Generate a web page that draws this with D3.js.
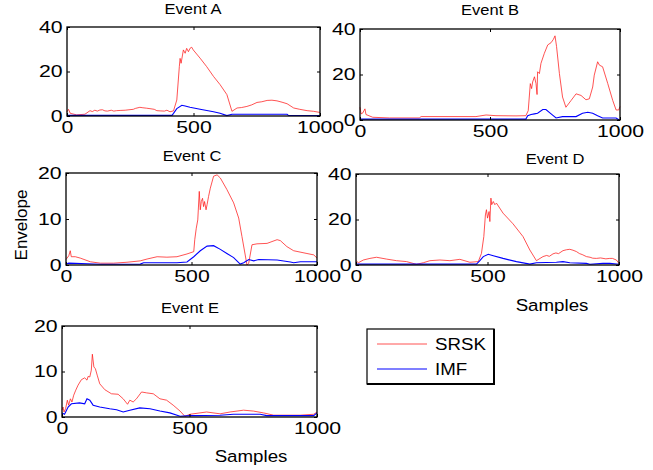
<!DOCTYPE html>
<html>
<head>
<meta charset="utf-8">
<script src="https://cdn.jsdelivr.net/npm/d3@7"></script>
<style>
  body { margin: 0; background: #fff; }
  svg { display: block; }
  text { font-family: "Liberation Sans", Arial, sans-serif; fill: #000; }
</style>
</head>
<body>
<svg id="chart" width="653" height="470"></svg>
<script>
// Envelope traces per event: [sample, envelope] pairs
const srskA = [[0,1.9],[6,3.0],[13,1.2],[38,0.5],[71,0.8],[91,2.4],[100,2.0],[110,2.6],[120,2.2],[130,2.7],[140,2.8],[150,2.3],[160,2.2],[175,2.6],[185,2.2],[196,2.4],[210,2.5],[230,2.6],[245,2.8],[262,3.0],[270,3.4],[288,3.9],[300,3.7],[315,3.5],[328,3.3],[345,3.0],[355,2.4],[368,2.3],[385,2.2],[395,2.6],[407,1.9],[421,2.3],[434,7.2],[444,22.2],[447,25.9],[451,23.7],[460,29.7],[467,28.2],[473,30.4],[480,28.9],[486,30.4],[493,30.9],[499,29.7],[526,26.0],[552,22.2],[579,17.8],[605,14.1],[632,9.6],[652,2.1],[672,3.6],[690,3.8],[711,4.3],[730,5.0],[751,6.1],[770,6.4],[791,7.0],[810,7.1],[830,6.8],[850,6.2],[870,5.5],[896,3.6],[920,3.0],[949,2.4],[975,2.1],[1000,1.6]];
const imfA = [[0,0.3],[415,0.3],[421,1.2],[434,3.3],[454,4.8],[467,4.5],[486,3.9],[526,3.0],[579,1.9],[605,1.2],[632,0.2],[652,0.8],[870,0.8],[876,0.2],[1000,0.2]];

const srskB = [[0,5.6],[4,2.7],[10,3.0],[19,4.9],[23,2.4],[49,1.2],[113,0.9],[228,0.9],[235,1.5],[446,1.5],[485,2.2],[523,1.9],[600,1.8],[638,1.9],[647,4.1],[655,16],[660,13.8],[664,16.7],[671,19],[677,16],[681,11.2],[683,21.2],[690,20.4],[696,24.9],[709,29.3],[722,33],[735,34],[744,35.5],[750,37],[756,32.3],[767,20.4],[779,10.1],[792,5.6],[812,8.6],[831,11.5],[850,10.8],[869,8.9],[882,9.3],[895,14.5],[901,19.7],[914,25.6],[921,24.1],[933,23.4],[953,16],[972,8.6],[985,4.4],[995,4.4],[1000,5.9]];
const imfB = [[0,0.4],[638,0.4],[645,1.9],[658,2.4],[671,2.7],[683,3.0],[703,4.6],[715,4.6],[735,2.7],[754,0.9],[779,1.5],[831,1.5],[856,3.0],[876,3.4],[895,3.0],[914,1.9],[933,0.9],[985,0.9],[997,0]];

const srskC = [[0,1.2],[11,2.0],[17,3.1],[21,1.8],[37,1.8],[57,1.5],[97,0.7],[137,0.4],[190,0.4],[243,0.6],[296,0.9],[323,1.3],[363,1.8],[402,1.7],[442,1.8],[482,2.4],[509,2.9],[513,5.5],[519,8.0],[525,9.8],[531,16],[535,12],[539,13.8],[544,14.5],[548,12.7],[552,13.8],[558,12],[562,13.1],[568,14.9],[575,16.7],[588,19.3],[602,19.6],[615,18.9],[641,16.4],[668,13.5],[688,10.2],[701,6.2],[721,0],[728,0.4],[741,4.4],[761,4.6],[801,4.7],[841,5.5],[854,5.3],[880,4.0],[907,3.1],[960,2.5],[987,2.2],[1000,1.5]];
const imfC = [[0,0.2],[11,0.4],[137,0.15],[296,0.2],[309,0.5],[442,0.5],[482,0.65],[509,1.8],[535,3.1],[562,4.1],[588,4.2],[615,3.4],[641,2.5],[668,1.6],[694,0.2],[708,0.5],[728,1.2],[748,0.9],[768,1.2],[841,1.1],[894,0.65],[907,0.5],[934,0.7],[1000,0.7]];

const srskD = [[0,1.9],[9,1.0],[28,2.2],[53,2.9],[78,3.4],[116,2.6],[154,1.9],[192,1.5],[230,0.3],[256,1.0],[281,1.9],[319,2.2],[357,1.9],[395,2.5],[433,1.2],[465,1.5],[477,5.1],[486,12.5],[492,22],[496,24.3],[500,20.6],[506,23.5],[509,19.1],[513,29.4],[516,26.5],[522,27.9],[528,26.5],[534,27.2],[559,22.8],[597,18.1],[635,12.5],[661,6.6],[686,1.9],[711,3.7],[725,4.2],[735,3.8],[749,4.9],[760,5.3],[770,5.0],[787,6.3],[800,6.7],[813,6.9],[825,6.5],[838,5.9],[850,5.0],[860,4.6],[876,3.7],[890,3.4],[900,3.0],[914,2.9],[930,3.1],[950,2.7],[965,2.9],[975,2.9],[990,2.2],[1000,0.7]];
const imfD = [[0,0.4],[458,0.4],[471,1.9],[484,3.7],[503,4.7],[522,4.1],[559,2.9],[610,1.5],[661,0.4],[686,1.0],[762,1.2],[787,1.5],[813,1.0],[876,0.7],[889,0.3],[939,0.7],[965,0.7],[1000,0.3]];

const srskE = [[0,1.5],[4,2.2],[8,1.1],[14,1.8],[21,3.7],[26,2.6],[33,4.0],[39,3.3],[46,4.8],[54,5.9],[63,7.0],[76,8.2],[89,8.6],[98,8.1],[102,8.9],[109,8.8],[115,10.3],[119,13.8],[125,11],[131,10.6],[138,9.2],[148,7.3],[168,6.0],[194,5.1],[220,5.0],[240,4.0],[257,2.8],[266,3.7],[279,3.3],[292,4.0],[312,5.5],[332,5.3],[358,5.1],[384,4.0],[410,3.7],[436,2.6],[463,1.3],[482,0.15],[502,0.6],[541,0.9],[567,1.1],[620,0.7],[659,1.1],[712,1.5],[751,1.3],[790,0.9],[830,0.4],[934,0.4],[987,0.6],[1000,1.1]];
const imfE = [[0,0.9],[10,0.6],[24,2.2],[37,2.9],[69,3.1],[89,2.9],[98,4.0],[109,3.7],[122,2.6],[148,2.2],[187,1.8],[214,1.6],[240,1.1],[266,1.5],[305,2.0],[345,1.8],[384,1.3],[423,0.9],[463,0.15],[502,0.3],[620,0.4],[672,0.6],[777,0.6],[803,0.3],[987,0.3],[1000,0.9]];

const eventTitles = ["Event A", "Event B", "Event C", "Event D", "Event E"];
const xTicks = [0, 500, 1000];
const yTicks40 = [0, 20, 40];
const yTicks20 = [0, 10, 20];
const seriesNames = ["SRSK", "IMF"];

const colors = { SRSK: "#ff1a1a", IMF: "#0000ff" };

// Panel frames (pixel boxes) and title anchors
const panels = [
  { title: eventTitles[0], srsk: srskA, imf: imfA, yTicks: yTicks40, box: [67, 27, 320, 116], tx: 193, ty: 14 },
  { title: eventTitles[1], srsk: srskB, imf: imfB, yTicks: yTicks40, box: [360, 29, 620, 120], tx: 490, ty: 15 },
  { title: eventTitles[2], srsk: srskC, imf: imfC, yTicks: yTicks20, box: [66, 173, 317, 265], tx: 192, ty: 161 },
  { title: eventTitles[3], srsk: srskD, imf: imfD, yTicks: yTicks40, box: [356, 174, 619, 265], tx: 555, ty: 164 },
  { title: eventTitles[4], srsk: srskE, imf: imfE, yTicks: yTicks20, box: [62, 326, 317, 417], tx: 190, ty: 313 }
];

const svg = d3.select("#chart");
const tickLen = 3;
const SX_TICK = 1.25, SX_TITLE = 1.18, SX_LABEL = 1.1;

// text widened horizontally about its anchor point
function wideText(parent, x, y, str, size, sx, anchor) {
  return parent.append("text")
    .attr("transform", `translate(${x},${y}) scale(${sx},1)`)
    .attr("text-anchor", anchor || "middle")
    .attr("font-size", size).text(str);
}

panels.forEach(p => {
  const [x0, y0, x1, y1] = p.box;
  const x = d3.scaleLinear().domain([0, 1000]).range([x0, x1]);
  const y = d3.scaleLinear().domain([0, d3.max(p.yTicks)]).range([y1, y0]);
  const g = svg.append("g");

  const line = d3.line().x(d => x(d[0])).y(d => y(d[1]));

  g.append("path").datum(p.srsk).attr("d", line)
    .attr("fill", "none").attr("stroke", colors.SRSK).attr("stroke-width", 0.75)
    .attr("stroke-linejoin", "round");
  g.append("path").datum(p.imf).attr("d", line)
    .attr("fill", "none").attr("stroke", colors.IMF).attr("stroke-width", 1.1);

  const fmt = d3.format("d");
  const bottom = g.append("g").attr("transform", `translate(0,${y1})`)
    .call(d3.axisBottom(x).tickValues(xTicks).tickSizeInner(-tickLen).tickSizeOuter(0).tickFormat(fmt).tickPadding(5));
  const top = g.append("g").attr("transform", `translate(0,${y0})`)
    .call(d3.axisTop(x).tickValues(xTicks).tickSizeInner(-tickLen).tickSizeOuter(0).tickFormat(""));
  const left = g.append("g").attr("transform", `translate(${x0},0)`)
    .call(d3.axisLeft(y).tickValues(p.yTicks).tickSizeInner(-tickLen).tickSizeOuter(0).tickFormat(fmt).tickPadding(3.5));
  const right = g.append("g").attr("transform", `translate(${x1},0)`)
    .call(d3.axisRight(y).tickValues(p.yTicks).tickSizeInner(-tickLen).tickSizeOuter(0).tickFormat(""));

  [bottom, top, left, right].forEach(a => {
    a.select(".domain").remove();
    a.selectAll("line").attr("stroke", "#000");
    a.selectAll("text").attr("font-family", "Liberation Sans, Arial, sans-serif")
      .attr("font-size", 17).attr("fill", "#000")
      .attr("transform", `scale(${SX_TICK},1)`);
  });

  g.append("rect").attr("x", x0).attr("y", y0).attr("width", x1 - x0).attr("height", y1 - y0)
    .attr("fill", "none").attr("stroke", "#000").attr("stroke-width", 1.3);

  wideText(g, p.tx, p.ty, p.title, 14, SX_TITLE);
});

// axis labels
svg.append("text").attr("transform", "translate(27,225) rotate(-90)")
  .attr("text-anchor", "middle").attr("font-size", 17).text("Envelope");
wideText(svg, 552, 311, "Samples", 17, SX_LABEL);
wideText(svg, 251, 462, "Samples", 17, SX_LABEL);

// legend
const lg = svg.append("g");
lg.append("rect").attr("x", 367).attr("y", 329).attr("width", 127).attr("height", 55)
  .attr("fill", "#fff").attr("stroke", "#000").attr("stroke-width", 1.2);
lg.append("line").attr("x1", 494).attr("y1", 329).attr("x2", 494).attr("y2", 385)
  .attr("stroke", "#000").attr("stroke-width", 2);
lg.append("line").attr("x1", 367).attr("y1", 384).attr("x2", 495).attr("y2", 384)
  .attr("stroke", "#000").attr("stroke-width", 2);
seriesNames.forEach((name, i) => {
  const yy = 344 + i * 25;
  lg.append("line").attr("x1", 377).attr("x2", 427).attr("y1", yy).attr("y2", yy)
    .attr("stroke", colors[name]).attr("stroke-width", name === "SRSK" ? 0.75 : 1.1);
  wideText(lg, 435, yy + 6, name, 17, SX_LABEL, "start");
});
</script>
</body>
</html>
